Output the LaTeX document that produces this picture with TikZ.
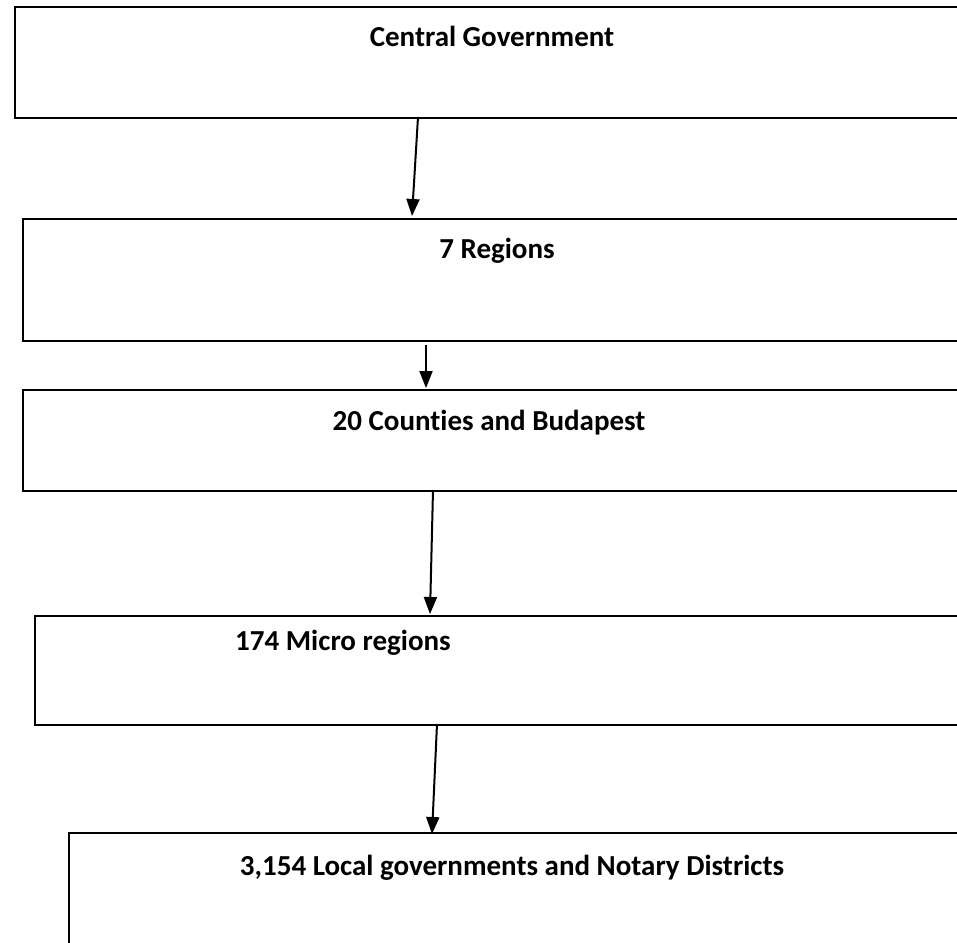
\documentclass[tikz,border=0pt]{standalone}
\usepackage{fontspec}
\setmainfont{Carlito}[Ligatures=NoCommon]
\usetikzlibrary{arrows.meta}
\begin{document}
\begin{tikzpicture}[x=1pt,y=-1pt,
  box/.style={draw, line width=2.2pt, anchor=north west, inner sep=0pt, minimum width=1000pt},
  lab/.style={font=\fontsize{29}{34}\selectfont\bfseries, anchor=base, inner sep=0pt},
  arr/.style={line width=2pt, -{Triangle[width=13pt,length=17pt]}}]
\path[use as bounding box] (0,0) rectangle (957,942);
\clip (0,0) rectangle (957,942);
% boxes
\node[box, minimum height=111pt] (b1) at (14,6) {};
\node[box, minimum height=122pt] (b2) at (22,218) {};
\node[box, minimum height=101pt] (b3) at (22,389) {};
\node[box, minimum height=109pt] (b4) at (34,615) {};
\node[box, minimum height=200pt] (b5) at (68,832) {};
% labels
\node[lab] (t1) at (492,47) {Central Government};
\node[lab] (t2) at (497,258) {7 Regions};
\node[lab] (t3) at (489,430) {20 Counties and Budapest};
\node[lab] (t4) at (343,650) {174 Micro regions};
\node[lab] (t5) at (512,875) {3,154 Local governments and Notary Districts};
% connector ends
\coordinate (s1) at (418,117);
\coordinate (e1) at (412,216);
\coordinate (s2) at (426,345);
\coordinate (e2) at (426,388);
\coordinate (s3) at (433,490);
\coordinate (e3) at (430,614);
\coordinate (s4) at (437,724);
\coordinate (e4) at (432,834);
\draw[arr] (s1) -- (e1);
\draw[arr] (s2) -- (e2);
\draw[arr] (s3) -- (e3);
\draw[arr] (s4) -- (e4);
\end{tikzpicture}
\end{document}
